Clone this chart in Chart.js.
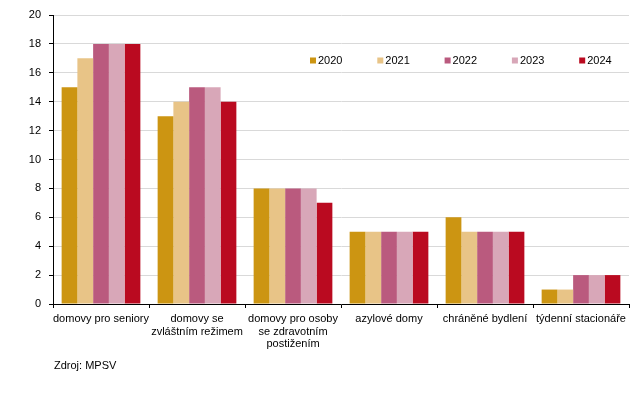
<!DOCTYPE html>
<html>
<head>
<meta charset="utf-8">
<script src="https://cdn.jsdelivr.net/npm/chart.js@4"></script>
<style>
  html, body { margin: 0; padding: 0; background: #fff; }
  #wrap { position: relative; width: 643px; height: 401px; }
  #src { position: absolute; left: 54px; top: 359px; font: 11px "Liberation Sans", Arial, sans-serif; color: #000; }
</style>
</head>
<body>
<div id="wrap">
  <canvas id="c" width="643" height="401"></canvas>
  <div id="src">Zdroj: MPSV</div>
</div>
<script>
const categories = [
  "domovy pro seniory",
  ["domovy se", "zvláštním režimem"],
  ["domovy pro osoby", "se zdravotním", "postižením"],
  "azylové domy",
  "chráněné bydlení",
  "týdenní stacionáře"
];
const seriesNames = ["2020", "2021", "2022", "2023", "2024"];
const v2020 = [15, 13, 8, 5, 6, 1];
const v2021 = [17, 14, 8, 5, 5, 1];
const v2022 = [18, 15, 8, 5, 5, 2];
const v2023 = [18, 15, 8, 5, 5, 2];
const v2024 = [18, 14, 7, 5, 5, 2];
const yTicks = [0, 2, 4, 6, 8, 10, 12, 14, 16, 18, 20];

const colors = ["#CC9512", "#E8C487", "#BA5A7E", "#D8A7B8", "#BA0A20"];
const values = [v2020, v2021, v2022, v2023, v2024];
const FONT = "'Liberation Sans', Arial, sans-serif";

const legendPlugin = {
  id: 'customLegend',
  afterDraw(chart) {
    const ctx = chart.ctx;
    ctx.save();
    ctx.font = "11px " + FONT;
    ctx.textBaseline = 'middle';
    chart.data.datasets.forEach((ds, i) => {
      const x = 310 + i * 67.3;
      const y = 60.5;
      ctx.fillStyle = ds.backgroundColor;
      ctx.fillRect(x, y - 3, 6, 6);
      ctx.fillStyle = '#000';
      ctx.textAlign = 'left';
      ctx.fillText(ds.label, x + 8, y + 0.5);
    });
    ctx.restore();
  }
};

new Chart(document.getElementById('c'), {
  type: 'bar',
  data: {
    labels: categories,
    datasets: seriesNames.map((n, i) => ({
      label: n,
      data: values[i],
      backgroundColor: colors[i],
      borderWidth: 0,
      barPercentage: 1.0,
      categoryPercentage: 0.82
    }))
  },
  options: {
    responsive: false,
    devicePixelRatio: 1,
    animation: false,
    layout: { padding: { top: 15, right: 14, bottom: 0, left: 0 } },
    plugins: {
      legend: { display: false },
      tooltip: { enabled: false }
    },
    scales: {
      x: {
        offset: true,
        grid: {
          offset: true,
          drawOnChartArea: false,
          drawTicks: true,
          tickLength: 4,
          tickColor: '#000'
        },
        border: { color: '#000', width: 1 },
        ticks: {
          color: '#000',
          font: { family: FONT, size: 11, lineHeight: 1.12 },
          padding: 5,
          maxRotation: 0,
          autoSkip: false
        },
        afterFit(scale) { scale.height = 97; }
      },
      y: {
        min: 0,
        max: 20,
        afterBuildTicks(scale) { scale.ticks = yTicks.map(v => ({ value: v })); },
        grid: {
          color: '#D9D9D9',
          lineWidth: 1,
          drawTicks: true,
          tickLength: 4,
          tickColor: '#000'
        },
        border: { color: '#000', width: 1 },
        ticks: {
          color: '#000',
          font: { family: FONT, size: 11 },
          padding: 8
        },
        afterFit(scale) { scale.width = 53; }
      }
    }
  },
  plugins: [legendPlugin]
});
</script>
</body>
</html>
